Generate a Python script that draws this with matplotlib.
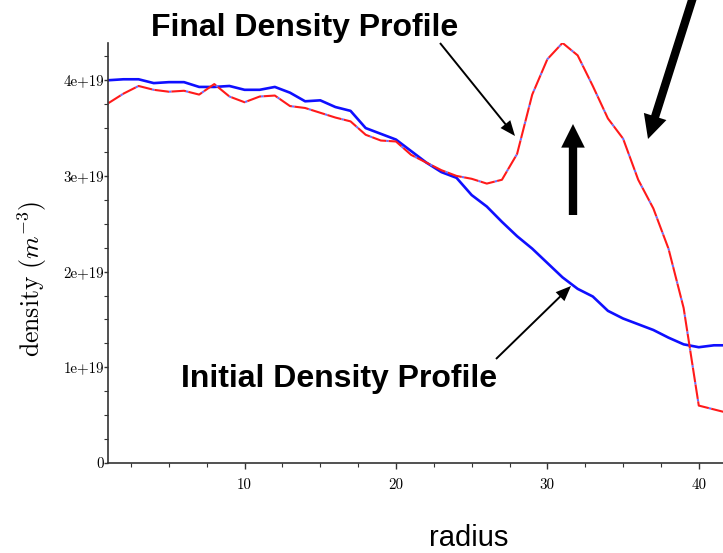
import matplotlib
matplotlib.use('Agg')
import matplotlib.pyplot as plt
from matplotlib.ticker import MultipleLocator, FixedLocator, FixedFormatter

plt.rcParams['mathtext.fontset'] = 'cm'
plt.rcParams['axes.unicode_minus'] = False

# radius grid and density profiles (units of 1e19 m^-3)
radius = list(range(1, 43))
initial_density = [4.00, 4.01, 4.01, 3.97, 3.98, 3.98, 3.93, 3.93, 3.94, 3.90,
                   3.90, 3.93, 3.87, 3.78, 3.79, 3.72, 3.68, 3.50, 3.44, 3.38,
                   3.26, 3.14, 3.04, 2.98, 2.80, 2.68, 2.52, 2.37, 2.24, 2.09,
                   1.94, 1.82, 1.74, 1.59, 1.51, 1.45, 1.39, 1.31, 1.24, 1.21,
                   1.23, 1.23]
final_density = [3.76, 3.86, 3.94, 3.90, 3.88, 3.89, 3.85, 3.96, 3.83, 3.77,
                 3.83, 3.84, 3.73, 3.71, 3.66, 3.61, 3.57, 3.43, 3.37, 3.36,
                 3.22, 3.14, 3.06, 3.00, 2.97, 2.92, 2.96, 3.23, 3.85, 4.22,
                 4.39, 4.26, 3.94, 3.60, 3.39, 2.96, 2.66, 2.24, 1.62, 0.60,
                 0.56, 0.52]
scale = 1e19
y_ticks = [0, 1, 2, 3, 4]
y_tick_labels = ['0', '1e+19', '2e+19', '3e+19', '4e+19']
x_ticks = [10, 20, 30, 40]

W, H = 723, 553
fig = plt.figure(figsize=(W / 100, H / 100), dpi=100)
ax = fig.add_axes([108.3 / W, 1 - 463 / H, 1 - 108.3 / W, (463 - 43.3) / H])

ax.plot(radius, [v * scale for v in initial_density], color='#0f0fff', lw=1.9)
ax.plot(radius, [v * scale for v in final_density], color='#ff1a1a', lw=1.5,
        dashes=(7, 1.2), gapcolor='#6a6aff')

ax.set_xlim(1, 41.6)
ax.set_ylim(0, 4.386 * scale)

for s in ['top', 'right']:
    ax.spines[s].set_visible(False)
for s in ['left', 'bottom']:
    ax.spines[s].set_linewidth(1.2)
    ax.spines[s].set_color('#333333')

ax.xaxis.set_major_locator(FixedLocator(x_ticks))
ax.xaxis.set_minor_locator(MultipleLocator(2.5))
ax.yaxis.set_major_locator(FixedLocator([v * scale for v in y_ticks]))
ax.yaxis.set_major_formatter(FixedFormatter(y_tick_labels))
ax.yaxis.set_minor_locator(MultipleLocator(0.25 * scale))

ax.tick_params(axis='x', which='major', direction='out', length=4, width=1, pad=7, colors='#333333')
ax.tick_params(axis='x', which='minor', direction='out', length=3, width=0.8, colors='#333333')
ax.tick_params(axis='y', which='major', direction='out', length=3, width=1, pad=0, colors='#333333')
ax.tick_params(axis='y', which='minor', direction='out', length=3, width=0.8, colors='#333333')
for lab in ax.get_xticklabels() + ax.get_yticklabels():
    lab.set_fontfamily('cmr10')
    lab.set_fontsize(10.8)
    lab.set_color('black')

ax.set_ylabel(r'$\mathrm{density}\ (m^{-3})$', fontsize=18.5)
ax.yaxis.set_label_coords(-(108.3 - 49) / (W - 108.3), (463 - 279) / (463 - 43.3))

fig.text(469 / W, 1 - 538 / H, 'radius', ha='center', va='center',
         fontsize=21, family='Liberation Sans')

fig.text(305 / W, 1 - 28 / H, 'Final Density Profile', ha='center', va='center',
         fontsize=23, fontweight='bold', family='Liberation Sans')
fig.text(339 / W, 1 - 379 / H, 'Initial Density Profile', ha='center', va='center',
         fontsize=23, fontweight='bold', family='Liberation Sans')

thin = dict(width=1.4, headwidth=9, headlength=11, facecolor='black', edgecolor='none')
thick = dict(width=6, headwidth=17, headlength=17, facecolor='black', edgecolor='none')

ax.annotate('', xy=(515, H - 136), xytext=(440, H - 43),
            xycoords='figure pixels', textcoords='figure pixels', arrowprops=thin)
ax.annotate('', xy=(571, H - 286), xytext=(496, H - 359),
            xycoords='figure pixels', textcoords='figure pixels', arrowprops=thin)
ax.annotate('', xy=(573, H - 124), xytext=(573, H - 215),
            xycoords='figure pixels', textcoords='figure pixels', arrowprops=thick)
ax.annotate('', xy=(648, H - 139), xytext=(701, H + 28),
            xycoords='figure pixels', textcoords='figure pixels', arrowprops=thick)

fig.savefig('out.png', dpi=100)
